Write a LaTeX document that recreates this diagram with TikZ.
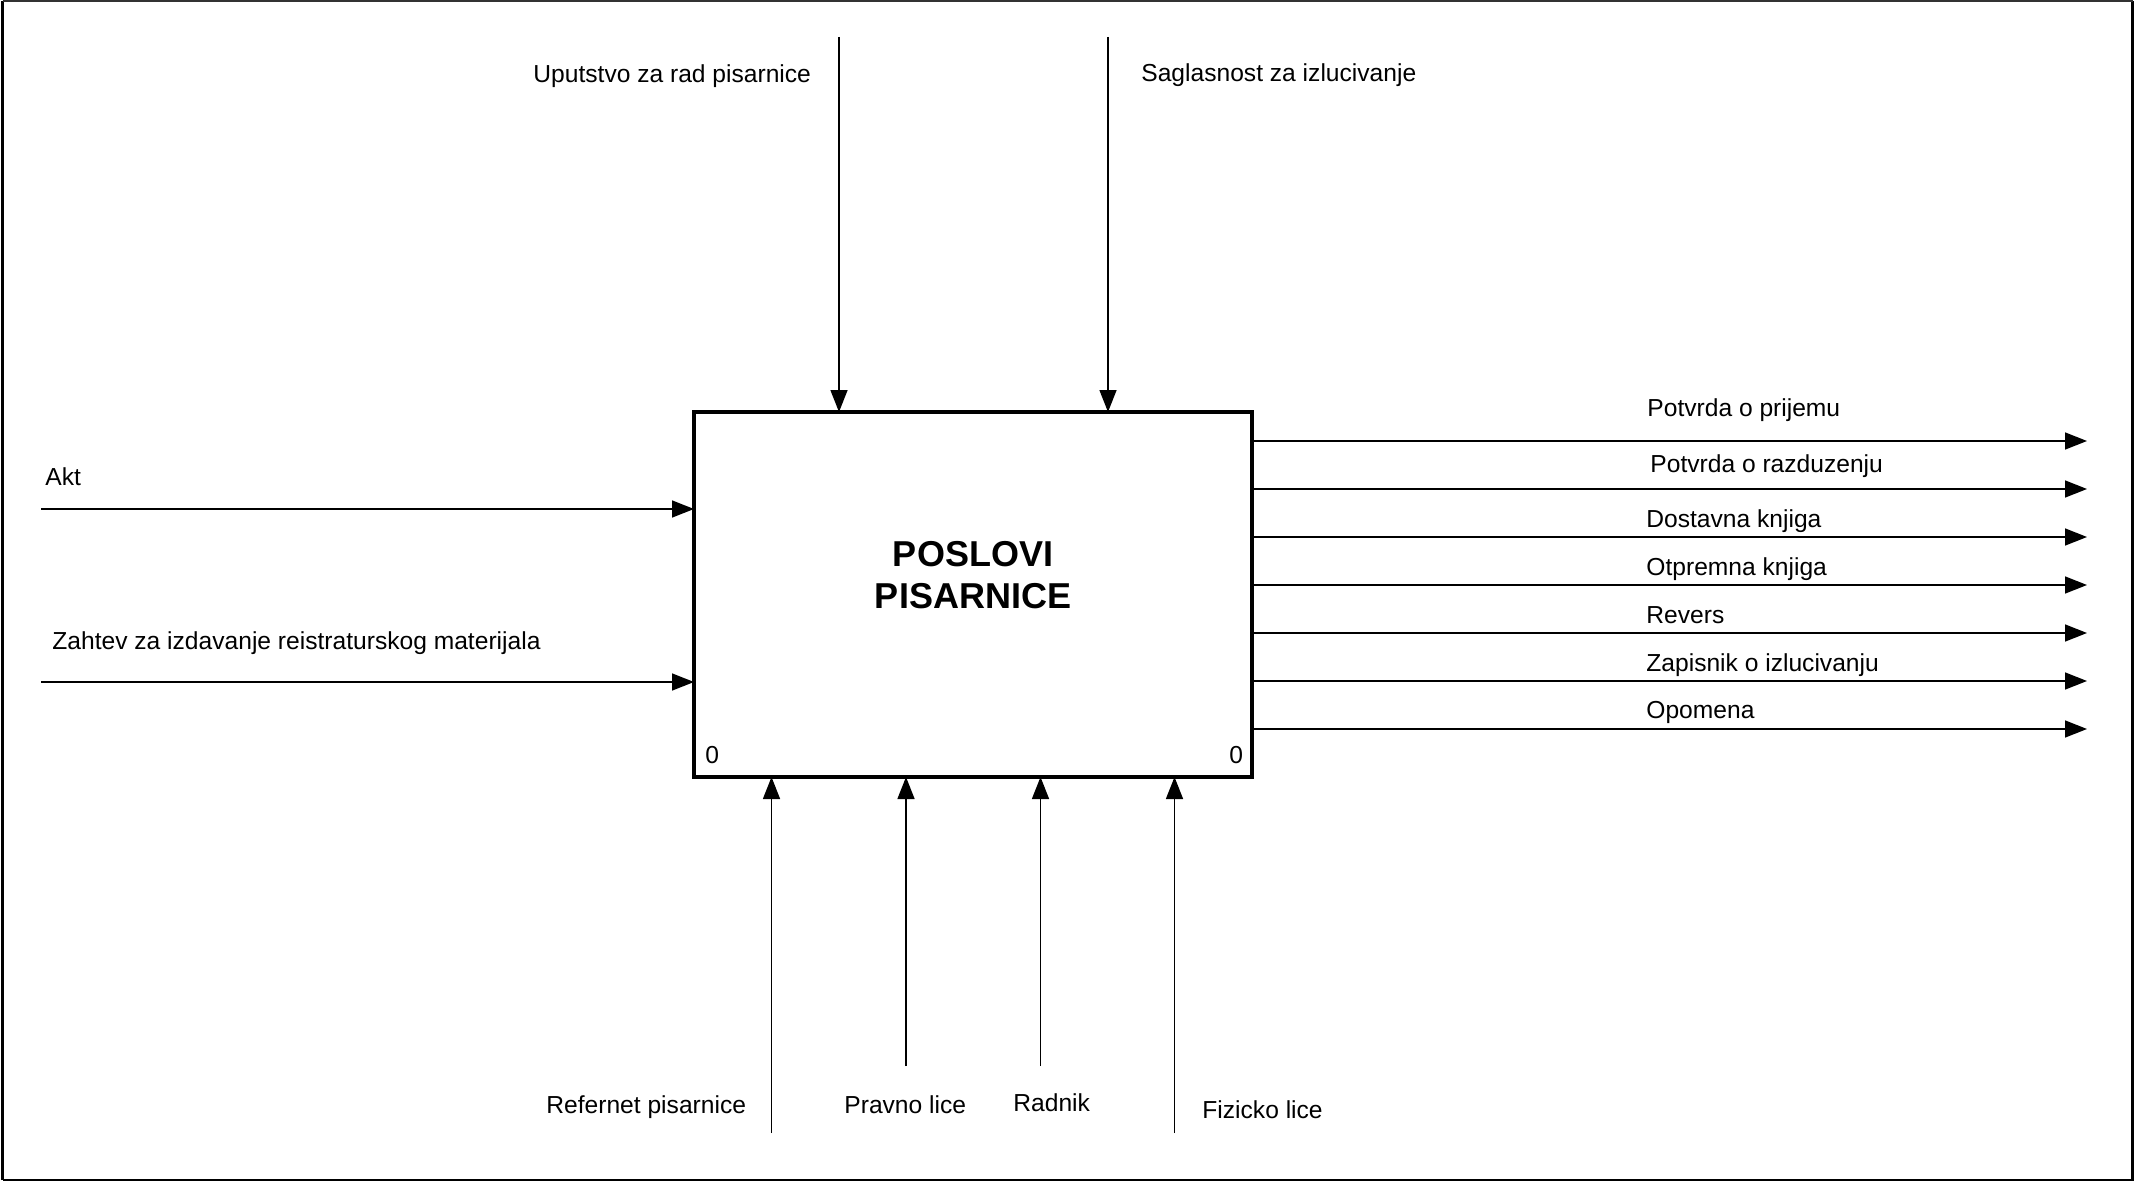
\documentclass[tikz,border=0pt]{standalone}
\usepackage{fontspec}
\setmainfont{Liberation Sans}
\usetikzlibrary{arrows.meta}
\begin{document}
\begin{tikzpicture}[x=0.5pt,y=-0.5pt,
  lbl/.style={anchor=base west,inner sep=0pt,font=\fontsize{12.3pt}{14pt}\selectfont},
  flow/.style={line width=0.75pt,-{Triangle[length=11pt,width=8.5pt]}},
  func/.style={draw,line width=1.75pt,minimum width=279pt,minimum height=182.5pt,inner sep=0pt,outer sep=0pt}]
\useasboundingbox (0,0) rectangle (2147,1182);
% outer frame
\draw[line width=1.25pt] (2.5,1180) -- (2.5,1) (2132.5,1) -- (2132.5,1180) -- (2.5,1180);
\draw[line width=0.6pt,black!80] (2.5,1) -- (2132.5,1);
% main function box
\node[func] (box) at (973,594.5) {};
\node[font=\fontsize{18pt}{21pt}\selectfont\bfseries,align=center] (title) at (973,575) {POSLOVI\\PISARNICE};
\node[lbl] (n0l) at (705,763) {0};
\node[lbl] (n0r) at (1229,763) {0};
% controls (top)
\coordinate (c1) at (839,37);
\coordinate (c2) at (1108,37);
\draw[flow] (c1) -- (c1 |- box.north);
\draw[flow] (c2) -- (c2 |- box.north);
\node[lbl] (lc1) at (533,83) {Uputstvo za rad pisarnice};
\node[lbl] (lc2) at (1141,82) {Saglasnost za izlucivanje};
% inputs (left)
\coordinate (i1) at (41,509);
\coordinate (i2) at (41,682);
\draw[flow] (i1) -- (i1 -| box.west);
\draw[flow] (i2) -- (i2 -| box.west);
\node[lbl] (li1) at (45,485) {Akt};
\node[lbl] (li2) at (52,649) {Zahtev za izdavanje reistraturskog materijala};
% mechanisms (bottom)
\coordinate (m1) at (771.5,1133);
\coordinate (m2) at (906,1066);
\coordinate (m3) at (1040.5,1066);
\coordinate (m4) at (1174.5,1133);
\foreach \m in {m1,m2,m3,m4} \draw[flow] (\m) -- (\m |- box.south);
\node[lbl] (lm1) at (546,1113) {Refernet pisarnice};
\node[lbl] (lm2) at (844,1113) {Pravno lice};
\node[lbl] (lm3) at (1013,1111) {Radnik};
\node[lbl] (lm4) at (1202,1118) {Fizicko lice};
% outputs (right)
\foreach \y/\n in {441/o1,489/o2,537/o3,585/o4,633/o5,681/o6,729/o7}
  \coordinate (\n) at (2087,\y);
\foreach \n in {o1,o2,o3,o4,o5,o6,o7} \draw[flow] (\n -| box.east) -- (\n);
\node[lbl] (lo1) at (1647,416) {Potvrda o prijemu};
\node[lbl] (lo2) at (1650,472) {Potvrda o razduzenju};
\node[lbl] (lo3) at (1646,527) {Dostavna knjiga};
\node[lbl] (lo4) at (1646,575) {Otpremna knjiga};
\node[lbl] (lo5) at (1646,623) {Revers};
\node[lbl] (lo6) at (1646,671) {Zapisnik o izlucivanju};
\node[lbl] (lo7) at (1646,718) {Opomena};
\end{tikzpicture}
\end{document}
